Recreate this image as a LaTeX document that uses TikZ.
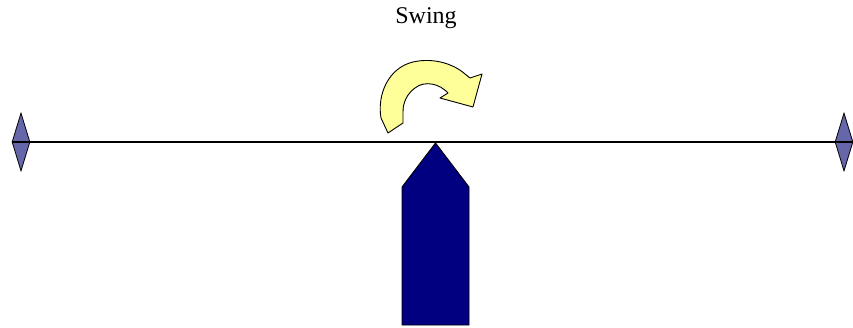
\documentclass[tikz,border=0pt]{standalone}
\usepackage{fontspec}
\setmainfont{Liberation Serif}
\usetikzlibrary{shapes.geometric}
\definecolor{swingyellow}{RGB}{255,255,153}
\definecolor{postnavy}{RGB}{0,0,128}
\definecolor{endblue}{RGB}{102,102,170}
\tikzset{
  endmark/.style={diamond, draw=black, line width=0.8pt, fill=endblue, minimum width=18pt, minimum height=58pt, inner sep=0pt},
  outline/.style={draw=black, line width=0.9pt},
}
\begin{document}
\begin{tikzpicture}[x=1pt,y=-1pt]
\useasboundingbox (0,0) rectangle (853,328);
% end markers
\node[endmark] (ld) at (21,142) {};
\node[endmark] (rd) at (844,142) {};
\draw[black, line width=1.1pt] (ld.west) -- (rd.east);
% fulcrum
\draw[outline, fill=postnavy] (402,325) -- (402,187) -- (435.5,143) -- (469,187) -- (469,325) -- cycle;
% swing arrow
\draw[outline, fill=swingyellow, line join=round]
  (388,133) -- (381,118)
  .. controls (377,95) and (388,68) .. (413,62)
  .. controls (435,57) and (455,65) .. (465,74)
  -- (470,78) -- (482,74) -- (473,107) -- (440,98) -- (448,93)
  .. controls (440,84) and (425,80) .. (415,88)
  .. controls (407,94) and (403,102) .. (403,112)
  -- (403,123) -- cycle;
\node[font=\fontsize{24}{28}\selectfont] (lbl) at (426,18) {Swing};
\end{tikzpicture}
\end{document}
